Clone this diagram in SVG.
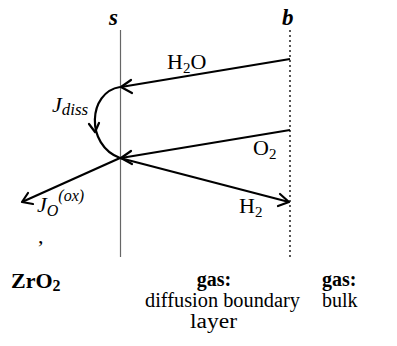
<svg xmlns="http://www.w3.org/2000/svg" width="397" height="346" viewBox="0 0 397 346">
<style>
text{font-family:"Liberation Serif","Times New Roman",serif;fill:#000}
.lbl{font-size:22px}
.bt{font-size:20px}
.b{font-weight:bold}
.i{font-style:italic}
.flow{fill:none;stroke:#000;stroke-width:2.2}
.head{fill:none;stroke:#000;stroke-width:2.2;stroke-linecap:round;stroke-linejoin:round}
</style>
<rect width="397" height="346" fill="#fff"/>
<g id="boundary-s">
<line x1="120.5" y1="30" x2="120.5" y2="257" stroke="#666" stroke-width="1.2"/>
<text x="109" y="25" class="b i" font-size="23">s</text>
</g>
<g id="boundary-b">
<line x1="290" y1="30" x2="290" y2="258" stroke="#444" stroke-width="1.8" stroke-dasharray="2,3"/>
<text x="282" y="25" class="b i" font-size="23">b</text>
</g>
<g id="connectors">
<g id="h2o-flow">
<line class="flow" x1="290" y1="59" x2="121" y2="87"/>
<polyline class="head" points="131,80 121,87 132,93"/>
<text x="167" y="69" class="lbl">H<tspan font-size="15" dy="4">2</tspan><tspan dy="-4">O</tspan></text>
</g>
<g id="o2-flow">
<line class="flow" x1="290" y1="130" x2="121" y2="158"/>
<polyline class="head" points="131,151 121,158 132,164"/>
<text x="253" y="155" class="lbl">O<tspan font-size="15" dy="4">2</tspan></text>
</g>
<g id="h2-flow">
<line class="flow" x1="120" y1="158" x2="289" y2="202"/>
<polyline class="head" points="280,194 289,202 278,206"/>
<text x="239" y="213" class="lbl">H<tspan font-size="15" dy="4">2</tspan></text>
</g>
<g id="jo-flow">
<line class="flow" x1="120" y1="158" x2="22" y2="202"/>
<polyline class="head" points="28,193 22,202 33,204"/>
<text x="37" y="212" class="lbl i">J<tspan font-size="16" dy="4">O</tspan><tspan font-size="16" dy="-15">(ox)</tspan></text>
<text x="38" y="243" class="lbl">,</text>
</g>
<g id="jdiss-flow">
<path class="flow" d="M120,87 C88,92 85,145 120,158"/>
<polyline class="head" points="89,124 95,132 99,123"/>
<text x="52" y="112" class="lbl i">J<tspan font-size="17" dy="3">diss</tspan></text>
</g>
</g>
<g id="zro2">
<text x="11" y="288" class="lbl b">ZrO<tspan font-size="16" dy="3">2</tspan></text>
</g>
<g id="gas-layer">
<text x="214" y="286" class="bt b" text-anchor="middle">gas:</text>
<text x="145" y="307" class="bt" textLength="155" lengthAdjust="spacingAndGlyphs">diffusion boundary</text>
<text x="190" y="328" class="bt" textLength="47" lengthAdjust="spacingAndGlyphs">layer</text>
</g>
<g id="gas-bulk">
<text x="322" y="286" class="bt b">gas:</text>
<text x="322" y="307" class="bt">bulk</text>
</g>
</svg>
